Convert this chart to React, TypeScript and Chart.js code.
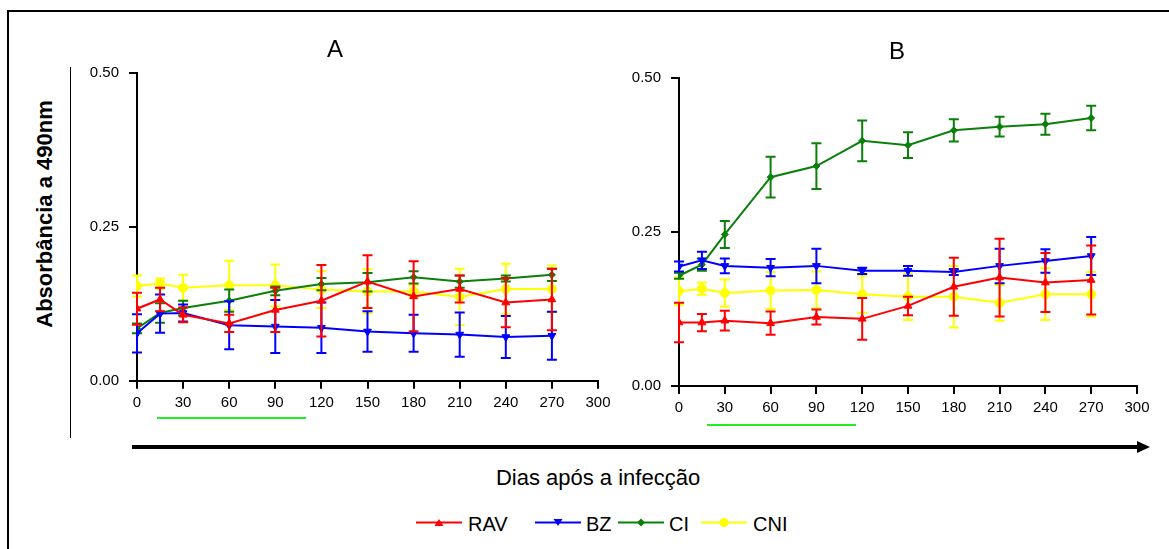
import React, { useEffect, useRef } from "react";
import { Chart, registerables } from "chart.js";

Chart.register(...registerables);

// ---------- DATA ----------
const days = [0, 15, 30, 60, 90, 120, 150, 180, 210, 240, 270];
const xTicks = [0, 30, 60, 90, 120, 150, 180, 210, 240, 270, 300];
const yTicks = [0, 0.25, 0.5];
const seriesNames = ["RAV", "BZ", "CI", "CNI"];
const panelTitles = ["A", "B"];

// Panel A
const A_RAV = [0.117, 0.132, 0.107, 0.093, 0.115, 0.130, 0.161, 0.137, 0.149, 0.127, 0.132];
const A_RAV_err = [0.026, 0.019, 0.012, 0.014, 0.036, 0.058, 0.043, 0.057, 0.022, 0.040, 0.050];
const A_BZ = [0.077, 0.109, 0.110, 0.090, 0.088, 0.086, 0.080, 0.077, 0.075, 0.071, 0.073];
const A_BZ_err = [0.031, 0.031, 0.014, 0.039, 0.043, 0.041, 0.033, 0.030, 0.036, 0.034, 0.039];
const A_CI = [0.085, 0.110, 0.118, 0.130, 0.146, 0.157, 0.160, 0.168, 0.161, 0.166, 0.172];
const A_CI_err = [0.008, 0.016, 0.012, 0.018, 0.007, 0.010, 0.015, 0.010, 0.010, 0.005, 0.010];
const A_CNI = [0.154, 0.158, 0.151, 0.155, 0.155, 0.148, 0.145, 0.145, 0.136, 0.149, 0.149];
const A_CNI_err = [0.017, 0.008, 0.021, 0.040, 0.034, 0.030, 0.036, 0.010, 0.046, 0.041, 0.038];

// Panel B
const B_RAV = [0.103, 0.103, 0.106, 0.102, 0.112, 0.109, 0.130, 0.161, 0.176, 0.168, 0.172];
const B_RAV_err = [0.032, 0.014, 0.016, 0.019, 0.012, 0.034, 0.015, 0.047, 0.063, 0.048, 0.056];
const B_BZ = [0.194, 0.204, 0.195, 0.192, 0.195, 0.187, 0.187, 0.185, 0.195, 0.203, 0.211];
const B_BZ_err = [0.008, 0.014, 0.012, 0.014, 0.028, 0.005, 0.008, 0.005, 0.028, 0.019, 0.031];
const B_CI = [0.179, 0.197, 0.246, 0.339, 0.357, 0.398, 0.391, 0.415, 0.421, 0.425, 0.435];
const B_CI_err = [0.005, 0.010, 0.022, 0.033, 0.037, 0.033, 0.021, 0.018, 0.016, 0.017, 0.020];
const B_CNI = [0.154, 0.158, 0.151, 0.155, 0.156, 0.149, 0.145, 0.145, 0.135, 0.149, 0.149];
const B_CNI_err = [0.022, 0.010, 0.022, 0.030, 0.030, 0.030, 0.038, 0.050, 0.029, 0.042, 0.036];

// ---------- STYLE ----------
const COLORS = ["#ff0000", "#0000ff", "#0a800a", "#ffff00"];
const FONT = '"Liberation Sans", Arial, Helvetica, sans-serif';

const errorBarPlugin = {
  id: "errorBars",
  afterDatasetDraw(chart: any, args: any) {
    const ds: any = chart.data.datasets[args.index];
    if (!ds.errors) return;
    const ctx = chart.ctx;
    const xs = chart.scales.x;
    const ys = chart.scales.y;
    ctx.save();
    ctx.strokeStyle = ds.borderColor;
    ctx.lineWidth = 2;
    ds.data.forEach((p: any, j: number) => {
      const e = ds.errors[j];
      const x = xs.getPixelForValue(p.x);
      const yt = ys.getPixelForValue(p.y + e);
      const yb = ys.getPixelForValue(p.y - e);
      ctx.beginPath();
      ctx.moveTo(x, yt);
      ctx.lineTo(x, yb);
      ctx.moveTo(x - 5, yt);
      ctx.lineTo(x + 5, yt);
      ctx.moveTo(x - 5, yb);
      ctx.lineTo(x + 5, yb);
      ctx.stroke();
    });
    ctx.restore();
  },
};

const pointStyles = ["triangle", "triangle", "rectRot", "circle"];
const pointRotations = [0, 180, 0, 0];
const pointRadii = [4.5, 4.5, 3.5, 4.5];

function buildDatasets(vals: number[][], errs: number[][]) {
  return vals.map((v, k) => ({
    label: seriesNames[k],
    data: v.map((y, i) => ({ x: days[i], y })),
    errors: errs[k],
    borderColor: COLORS[k],
    backgroundColor: COLORS[k],
    pointBackgroundColor: COLORS[k],
    pointBorderColor: COLORS[k],
    pointStyle: pointStyles[k],
    pointRotation: pointRotations[k],
    pointRadius: pointRadii[k],
    pointBorderWidth: 1,
    borderWidth: 2,
    tension: 0,
    fill: false,
  }));
}

function makeOptions(pad: { left: number; right: number; top: number; bottom: number }) {
  return {
    animation: false,
    responsive: false,
    maintainAspectRatio: false,
    events: [],
    layout: { padding: pad },
    plugins: { legend: { display: false }, tooltip: { enabled: false }, title: { display: false } },
    scales: {
      x: {
        type: "linear",
        min: 0,
        max: 300,
        afterBuildTicks: (s: any) => {
          s.ticks = xTicks.map((v) => ({ value: v }));
        },
        afterFit: (s: any) => {
          s.height = 40;
        },
        ticks: {
          color: "#000",
          font: { family: FONT, size: 15 },
          padding: 5,
          maxRotation: 0,
          autoSkip: false,
          callback: (v: any) => String(v),
        },
        grid: { drawOnChartArea: false, drawTicks: true, tickLength: 8, color: "#000", lineWidth: 2 },
        border: { display: true, color: "#000", width: 2 },
      },
      y: {
        type: "linear",
        min: 0,
        max: 0.5,
        afterBuildTicks: (s: any) => {
          s.ticks = yTicks.map((v) => ({ value: v }));
        },
        afterFit: (s: any) => {
          s.width = 60;
        },
        ticks: {
          color: "#000",
          font: { family: FONT, size: 15 },
          padding: 10,
          callback: (v: any) => Number(v).toFixed(2),
        },
        grid: { drawOnChartArea: false, drawTicks: true, tickLength: 8, color: "#000", lineWidth: 2 },
        border: { display: true, color: "#000", width: 2 },
      },
    },
  };
}

function Marker({ k }: { k: number }) {
  const c = COLORS[k];
  let shape: any = null;
  if (k === 0) shape = <polygon points="23,2 27.5,9 18.5,9" fill={c} />;
  else if (k === 1) shape = <polygon points="23,9 27.5,2 18.5,2" fill={c} />;
  else if (k === 2) shape = <polygon points="23,1.5 27,5.5 23,9.5 19,5.5" fill={c} />;
  else shape = <circle cx="23" cy="5.5" r="4.5" fill={c} />;
  return (
    <svg width={46} height={11} style={{ display: "block" }}>
      <line x1={0} y1={5.5} x2={46} y2={5.5} stroke={c} strokeWidth={2} />
      {shape}
    </svg>
  );
}

export default function App() {
  const refA = useRef<HTMLCanvasElement>(null);
  const refB = useRef<HTMLCanvasElement>(null);

  useEffect(() => {
    const chA = new Chart(refA.current as HTMLCanvasElement, {
      type: "line",
      data: {
        datasets: buildDatasets([A_RAV, A_BZ, A_CI, A_CNI], [A_RAV_err, A_BZ_err, A_CI_err, A_CNI_err]) as any,
      },
      options: makeOptions({ left: 17, right: 22, top: 43, bottom: 9.3 }) as any,
      plugins: [errorBarPlugin],
    });
    const chB = new Chart(refB.current as HTMLCanvasElement, {
      type: "line",
      data: {
        datasets: buildDatasets([B_RAV, B_BZ, B_CI, B_CNI], [B_RAV_err, B_BZ_err, B_CI_err, B_CNI_err]) as any,
      },
      options: makeOptions({ left: 19, right: 23, top: 48, bottom: 4 }) as any,
      plugins: [errorBarPlugin],
    });
    return () => {
      chA.destroy();
      chB.destroy();
    };
  }, []);

  const legendPos = [
    { line: 416, text: 468 },
    { line: 535, text: 586 },
    { line: 618, text: 669 },
    { line: 701, text: 753 },
  ];

  return (
    <div
      style={{
        position: "absolute",
        left: 0,
        top: 0,
        width: 1169,
        height: 549,
        background: "#fff",
        overflow: "hidden",
        fontFamily: FONT,
        color: "#000",
      }}
    >
      {/* frame */}
      <div
        style={{
          position: "absolute",
          left: 7,
          top: 10,
          width: 1200,
          height: 600,
          borderTop: "2px solid #000",
          borderLeft: "2px solid #000",
        }}
      />
      {/* left vertical line */}
      <div style={{ position: "absolute", left: 70, top: 67, width: 1, height: 371, background: "#000" }} />

      <canvas ref={refA} width={560} height={400} style={{ position: "absolute", left: 60, top: 30, width: 560, height: 400 }} />
      <canvas ref={refB} width={560} height={400} style={{ position: "absolute", left: 600, top: 30, width: 560, height: 400 }} />

      {/* panel titles */}
      <div style={{ position: "absolute", left: 335, top: 49, transform: "translate(-50%,-50%)", fontSize: 24, lineHeight: "24px" }}>
        {panelTitles[0]}
      </div>
      <div style={{ position: "absolute", left: 897, top: 51, transform: "translate(-50%,-50%)", fontSize: 24, lineHeight: "24px" }}>
        {panelTitles[1]}
      </div>

      {/* y axis title */}
      <div
        style={{
          position: "absolute",
          left: 45,
          top: 214,
          transform: "translate(-50%,-50%) rotate(-90deg)",
          fontSize: 22,
          fontWeight: "bold",
          whiteSpace: "nowrap",
          lineHeight: "22px",
        }}
      >
        Absorbância a 490nm
      </div>

      {/* green underline bars */}
      <div style={{ position: "absolute", left: 157, top: 417, width: 149, height: 2, background: "#22ee22" }} />
      <div style={{ position: "absolute", left: 707, top: 424, width: 149, height: 2, background: "#22ee22" }} />

      {/* big arrow */}
      <div style={{ position: "absolute", left: 132, top: 445, width: 1008, height: 3.5, background: "#000" }} />
      <div
        style={{
          position: "absolute",
          left: 1137,
          top: 440.5,
          width: 0,
          height: 0,
          borderLeft: "13px solid #000",
          borderTop: "6px solid transparent",
          borderBottom: "6px solid transparent",
        }}
      />

      {/* x axis title */}
      <div
        style={{
          position: "absolute",
          left: 598,
          top: 478,
          transform: "translate(-50%,-50%)",
          fontSize: 22,
          whiteSpace: "nowrap",
          lineHeight: "22px",
        }}
      >
        Dias após a infecção
      </div>

      {/* legend */}
      {seriesNames.map((n, k) => (
        <React.Fragment key={n}>
          <div style={{ position: "absolute", left: legendPos[k].line, top: 516.5 }}>
            <Marker k={k} />
          </div>
          <div
            style={{
              position: "absolute",
              left: legendPos[k].text,
              top: 524,
              transform: "translateY(-50%)",
              fontSize: 20,
              lineHeight: "20px",
              whiteSpace: "nowrap",
            }}
          >
            {n}
          </div>
        </React.Fragment>
      ))}
    </div>
  );
}
